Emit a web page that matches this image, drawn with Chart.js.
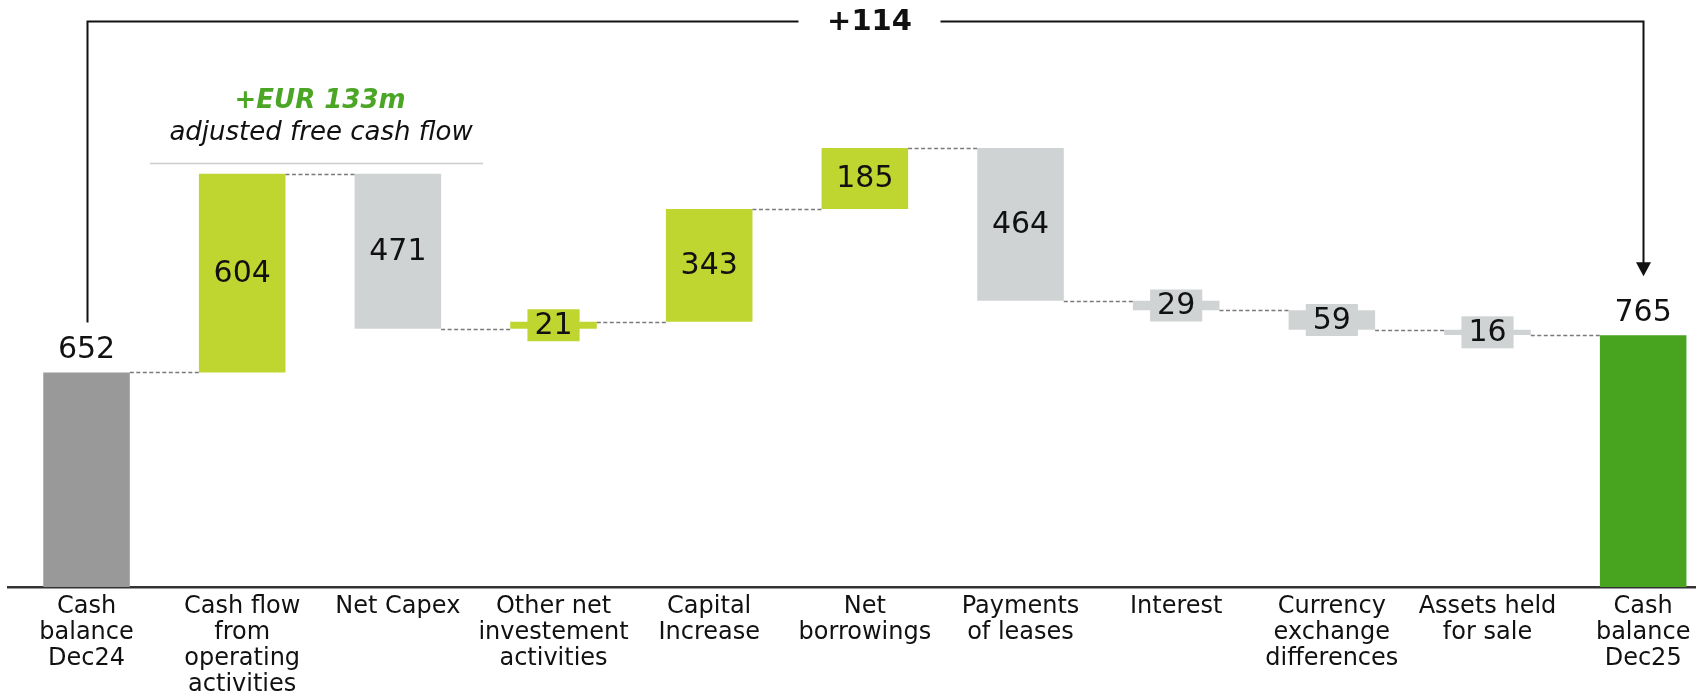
<!DOCTYPE html>
<html>
<head>
<meta charset="utf-8">
<script src="https://cdn.jsdelivr.net/npm/chart.js@4.4.1/dist/chart.umd.min.js"></script>
<style>
  html, body { margin: 0; padding: 0; background: #fff; overflow: hidden; }
  /* the last category runs slightly past the right edge */
  #wrap { width: 1696px; height: 698px; overflow: hidden; }
</style>
</head>
<body>
<div id="wrap"><canvas id="cashBridge" width="1721" height="698"></canvas></div>
<script>
// Cash bridge Dec24 -> Dec25 (EUR m)
const categories = [
    ['Cash', 'balance', 'Dec24'],
    ['Cash flow', 'from', 'operating', 'activities'],
    ['Net Capex'],
    ['Other net', 'investement', 'activities'],
    ['Capital', 'Increase'],
    ['Net', 'borrowings'],
    ['Payments', 'of leases'],
    ['Interest'],
    ['Currency', 'exchange', 'differences'],
    ['Assets held', 'for sale'],
    ['Cash', 'balance', 'Dec25']
];
const openingBalance = 652;
const closingBalance = 765;
const movements = [604, -471, 21, 343, 185, -464, -29, -59, -16];
const netChangeLabel = '+114';
const fcfCaption = 'adjusted free cash flow';

const FONT = "'DejaVu Sans', Verdana, sans-serif";
const colors = {
    opening: '#999999',
    up: '#bfd630',
    down: '#d0d3d4',
    closing: '#48a41e',
    connector: '#7a7a7a',
    text: '#111111',
    fcf: '#4ca626'
};

// Build floating ranges from the running balance
const ranges = [[0, openingBalance]];
const shown = [openingBalance];
const barColors = [colors.opening];
let running = openingBalance;
movements.forEach(m => {
    ranges.push([running, running + m]);
    shown.push(Math.abs(m));
    barColors.push(m >= 0 ? colors.up : colors.down);
    running += m;
});
ranges.push([0, closingBalance]);
shown.push(closingBalance);
barColors.push(colors.closing);

const adjustedFcf = movements[0] + movements[1];

// Dashed connectors between neighbouring bars
const connectorPlugin = {
    id: 'connectors',
    afterDatasetsDraw(chart) {
        const { ctx, scales: { y } } = chart;
        const bars = chart.getDatasetMeta(0).data;
        ctx.save();
        ctx.strokeStyle = colors.connector;
        ctx.lineWidth = 1.5;
        ctx.setLineDash([4, 2.5]);
        for (let i = 0; i < bars.length - 1; i++) {
            const level = Math.round(y.getPixelForValue(ranges[i][1])) + 0.5;
            ctx.beginPath();
            ctx.moveTo(bars[i].x + bars[i].width / 2, level);
            ctx.lineTo(bars[i + 1].x - bars[i + 1].width / 2, level);
            ctx.stroke();
        }
        ctx.restore();
    }
};

// Value labels: inside tall bars, boxed on thin ones, above the totals
const valuePlugin = {
    id: 'valueLabels',
    afterDatasetsDraw(chart) {
        const { ctx, scales: { y } } = chart;
        const bars = chart.getDatasetMeta(0).data;
        const last = bars.length - 1;
        ctx.save();
        ctx.font = '30px ' + FONT;
        ctx.textAlign = 'center';
        ctx.textBaseline = 'middle';
        bars.forEach((bar, i) => {
            const [a, b] = ranges[i];
            const text = String(shown[i]);
            if (i === 0 || i === last) {
                ctx.fillStyle = colors.text;
                ctx.fillText(text, bar.x, y.getPixelForValue(b) - 22);
                return;
            }
            const cy = (y.getPixelForValue(a) + y.getPixelForValue(b)) / 2;
            if (Math.abs(b - a) < 100) {
                const w = ctx.measureText(text).width + 14;
                ctx.fillStyle = barColors[i];
                ctx.fillRect(bar.x - w / 2, cy - 16, w, 32);
            }
            ctx.fillStyle = colors.text;
            ctx.fillText(text, bar.x, cy + 1);
        });
        ctx.restore();
    }
};

// Overall change bracket and the free cash flow caption
const annotationPlugin = {
    id: 'bridgeAnnotations',
    afterDraw(chart) {
        const { ctx, scales: { x, y } } = chart;
        const last = categories.length - 1;
        const xl = Math.round(x.getPixelForValue(0)) + 0.5;
        const xr = Math.round(x.getPixelForValue(last)) + 0.5;
        const topY = 21.5;
        const leftEnd = y.getPixelForValue(openingBalance) - 50;
        const tipY = y.getPixelForValue(closingBalance) - 59;
        const mid = (xl + xr) / 2 + 4;

        ctx.save();
        ctx.strokeStyle = '#111';
        ctx.fillStyle = '#111';
        ctx.lineWidth = 2;
        ctx.beginPath();
        ctx.moveTo(xl, leftEnd);
        ctx.lineTo(xl, topY);
        ctx.lineTo(mid - 71, topY);
        ctx.moveTo(mid + 71, topY);
        ctx.lineTo(xr, topY);
        ctx.lineTo(xr, tipY - 12);
        ctx.stroke();
        ctx.beginPath();
        ctx.moveTo(xr - 7.5, tipY - 14);
        ctx.lineTo(xr + 7.5, tipY - 14);
        ctx.lineTo(xr, tipY);
        ctx.closePath();
        ctx.fill();

        ctx.font = 'bold 29px ' + FONT;
        ctx.textAlign = 'center';
        ctx.textBaseline = 'middle';
        ctx.fillText(netChangeLabel, mid, topY + 1);

        // caption above operating cash flow and capex
        const cx = (x.getPixelForValue(1) + x.getPixelForValue(2)) / 2;
        const barTop = y.getPixelForValue(ranges[1][1]);
        ctx.textBaseline = 'alphabetic';
        ctx.font = 'italic bold 26px ' + FONT;
        ctx.fillStyle = colors.fcf;
        ctx.fillText('+EUR ' + adjustedFcf + 'm', cx, barTop - 66);
        ctx.font = 'italic 26px ' + FONT;
        ctx.fillStyle = colors.text;
        ctx.fillText(fcfCaption, cx + 1, barTop - 34);

        ctx.strokeStyle = '#cccccc';
        ctx.lineWidth = 1.5;
        ctx.beginPath();
        ctx.moveTo(cx - 170, Math.round(barTop - 11) + 0.5);
        ctx.lineTo(cx + 163, Math.round(barTop - 11) + 0.5);
        ctx.stroke();
        ctx.restore();
    }
};

new Chart(document.getElementById('cashBridge'), {
    type: 'bar',
    data: {
        labels: categories,
        datasets: [{
            data: ranges,
            backgroundColor: barColors,
            borderWidth: 0,
            barPercentage: 0.556,
            categoryPercentage: 1
        }]
    },
    options: {
        responsive: false,
        animation: false,
        layout: {
            padding: { left: 8.7, right: 0, top: 0, bottom: 0 }
        },
        plugins: {
            legend: { display: false },
            tooltip: { enabled: false }
        },
        scales: {
            x: {
                grid: { display: false, drawTicks: false },
                border: { display: true, color: '#333333', width: 2.5 },
                ticks: {
                    autoSkip: false,
                    maxRotation: 0,
                    minRotation: 0,
                    padding: 7,
                    color: colors.text,
                    font: { family: FONT, size: 24, lineHeight: '26px' }
                },
                afterFit(scale) {
                    scale.height = 111;
                }
            },
            y: {
                display: false,
                min: 0,
                max: 1784
            }
        }
    },
    plugins: [connectorPlugin, valuePlugin, annotationPlugin]
});
</script>
</body>
</html>
